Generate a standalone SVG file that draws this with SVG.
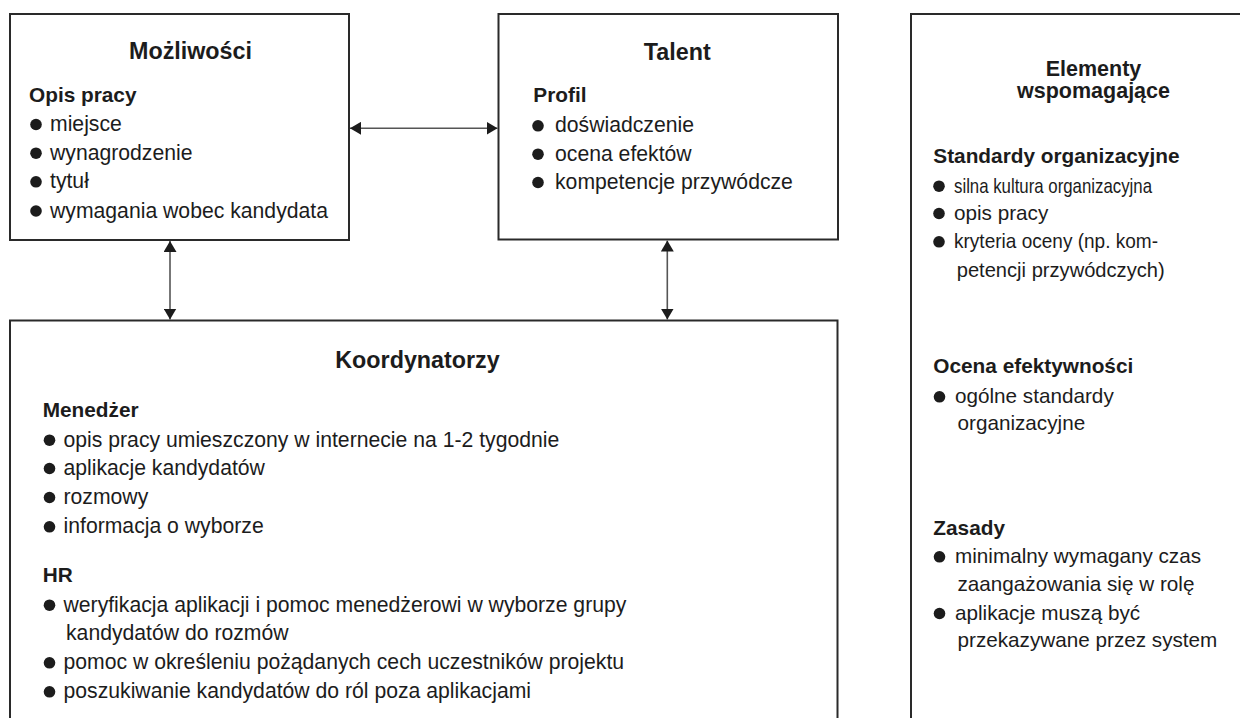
<svg xmlns="http://www.w3.org/2000/svg" width="1240" height="718" viewBox="0 0 1240 718">
  <style>
    text { font-family: "Liberation Sans", Arial, Helvetica, sans-serif; fill: #1c1c1c; }
    .title { font-size: 23.3px; font-weight: bold; text-anchor: middle; }
    .title-s { font-size: 21.5px; font-weight: bold; text-anchor: middle; }
    .head { font-size: 20.8px; font-weight: bold; }
    .item { font-size: 21.2px; }
    .item-s { font-size: 20.7px; }
    .box { fill: #ffffff; stroke: #2a2a2a; stroke-width: 2; }
    .dot { fill: #1c1c1c; }
    .link { stroke: #555555; stroke-width: 1.6; fill: none; }
  </style>
  <defs>
    <marker id="arrow" viewBox="0 0 11 13" refX="11" refY="6.5" markerWidth="11" markerHeight="13" markerUnits="userSpaceOnUse" orient="auto-start-reverse">
      <path d="M0,0 L11,6.5 L0,13 Z" fill="#1c1c1c"/>
    </marker>
  </defs>

  <rect width="1240" height="718" fill="#ffffff"/>

  <!-- Możliwości -->
  <g id="mozliwosci">
    <rect class="box" x="10" y="14" width="339" height="226"/>
    <text class="title" x="190.5" y="59">Możliwości</text>
    <text class="head" x="29" y="102">Opis pracy</text>
    <circle class="dot" cx="36" cy="124.5" r="5.8"/>
    <text class="item" x="50" y="131">miejsce</text>
    <circle class="dot" cx="36" cy="153.2" r="5.8"/>
    <text class="item" x="50" y="159.7">wynagrodzenie</text>
    <circle class="dot" cx="36" cy="181.8" r="5.8"/>
    <text class="item" x="50" y="188.3">tytuł</text>
    <circle class="dot" cx="36" cy="211" r="5.8"/>
    <text class="item" x="50" y="217.5">wymagania wobec kandydata</text>
  </g>

  <!-- Talent -->
  <g id="talent">
    <rect class="box" x="498.5" y="14" width="339.5" height="225.5"/>
    <text class="title" x="677.3" y="59.5">Talent</text>
    <text class="head" x="533.3" y="101.5">Profil</text>
    <circle class="dot" cx="538" cy="125.8" r="5.8"/>
    <text class="item" x="555" y="132.3">doświadczenie</text>
    <circle class="dot" cx="538" cy="154.2" r="5.8"/>
    <text class="item" x="555" y="160.7">ocena efektów</text>
    <circle class="dot" cx="538" cy="182.5" r="5.8"/>
    <text class="item" x="555" y="189">kompetencje przywódcze</text>
  </g>

  <!-- Koordynatorzy -->
  <g id="koordynatorzy">
    <rect class="box" x="10" y="320.5" width="827.5" height="420"/>
    <text class="title" x="417.5" y="368">Koordynatorzy</text>
    <text class="head" x="42.7" y="417">Menedżer</text>
    <circle class="dot" cx="49.5" cy="440.2" r="5.8"/>
    <text class="item" x="63.5" y="446.7">opis pracy umieszczony w internecie na 1-2 tygodnie</text>
    <circle class="dot" cx="49.5" cy="468.5" r="5.8"/>
    <text class="item" x="63.5" y="475">aplikacje kandydatów</text>
    <circle class="dot" cx="49.5" cy="497.5" r="5.8"/>
    <text class="item" x="63.5" y="504">rozmowy</text>
    <circle class="dot" cx="49.5" cy="526.8" r="5.8"/>
    <text class="item" x="63.5" y="533.3">informacja o wyborze</text>
    <text class="head" x="42.7" y="581.7">HR</text>
    <circle class="dot" cx="49.5" cy="605.2" r="5.8"/>
    <text class="item" x="63.5" y="611.7">weryfikacja aplikacji i pomoc menedżerowi w wyborze grupy</text>
    <text class="item" x="66" y="640">kandydatów do rozmów</text>
    <circle class="dot" cx="49.5" cy="662.8" r="5.8"/>
    <text class="item" x="63.5" y="669.3">pomoc w określeniu pożądanych cech uczestników projektu</text>
    <circle class="dot" cx="49.5" cy="691.8" r="5.8"/>
    <text class="item" x="63.5" y="698.3">poszukiwanie kandydatów do ról poza aplikacjami</text>
  </g>

  <!-- Elementy wspomagające -->
  <g id="elementy">
    <rect class="box" x="911" y="14" width="340" height="720"/>
    <text class="title-s" x="1093.5" y="75.5">Elementy</text>
    <text class="title-s" x="1093.5" y="97.5">wspomagające</text>
    <text class="head" x="933.3" y="163.3">Standardy organizacyjne</text>
    <circle class="dot" cx="939" cy="186.2" r="5.8"/>
    <text class="item-s" x="954" y="192.7" textLength="198" lengthAdjust="spacingAndGlyphs">silna kultura organizacyjna</text>
    <circle class="dot" cx="939" cy="213.5" r="5.8"/>
    <text class="item-s" x="954" y="220">opis pracy</text>
    <circle class="dot" cx="939" cy="241.8" r="5.8"/>
    <text class="item-s" x="954" y="248.3" textLength="204" lengthAdjust="spacingAndGlyphs">kryteria oceny (np. kom-</text>
    <text class="item-s" x="956.7" y="276.7" textLength="208" lengthAdjust="spacingAndGlyphs">petencji przywódczych)</text>
    <text class="head" x="933.3" y="373.3">Ocena efektywności</text>
    <circle class="dot" cx="939.5" cy="396.8" r="5.8"/>
    <text class="item-s" x="955" y="403.3">ogólne standardy</text>
    <text class="item-s" x="957.5" y="430">organizacyjne</text>
    <text class="head" x="933.3" y="535">Zasady</text>
    <circle class="dot" cx="939.5" cy="556.8" r="5.8"/>
    <text class="item-s" x="955" y="563.3">minimalny wymagany czas</text>
    <text class="item-s" x="957.5" y="590.7">zaangażowania się w rolę</text>
    <circle class="dot" cx="939.5" cy="613.5" r="5.8"/>
    <text class="item-s" x="955" y="620">aplikacje muszą być</text>
    <text class="item-s" x="957.5" y="646.7">przekazywane przez system</text>
  </g>

  <!-- connectors -->
  <g id="connectors">
    <line class="link" x1="350" y1="128.3" x2="497.5" y2="128.3" marker-start="url(#arrow)" marker-end="url(#arrow)"/>
    <line class="link" x1="170" y1="241" x2="170" y2="319.5" marker-start="url(#arrow)" marker-end="url(#arrow)"/>
    <line class="link" x1="667.3" y1="240.5" x2="667.3" y2="319.5" marker-start="url(#arrow)" marker-end="url(#arrow)"/>
  </g>
</svg>
